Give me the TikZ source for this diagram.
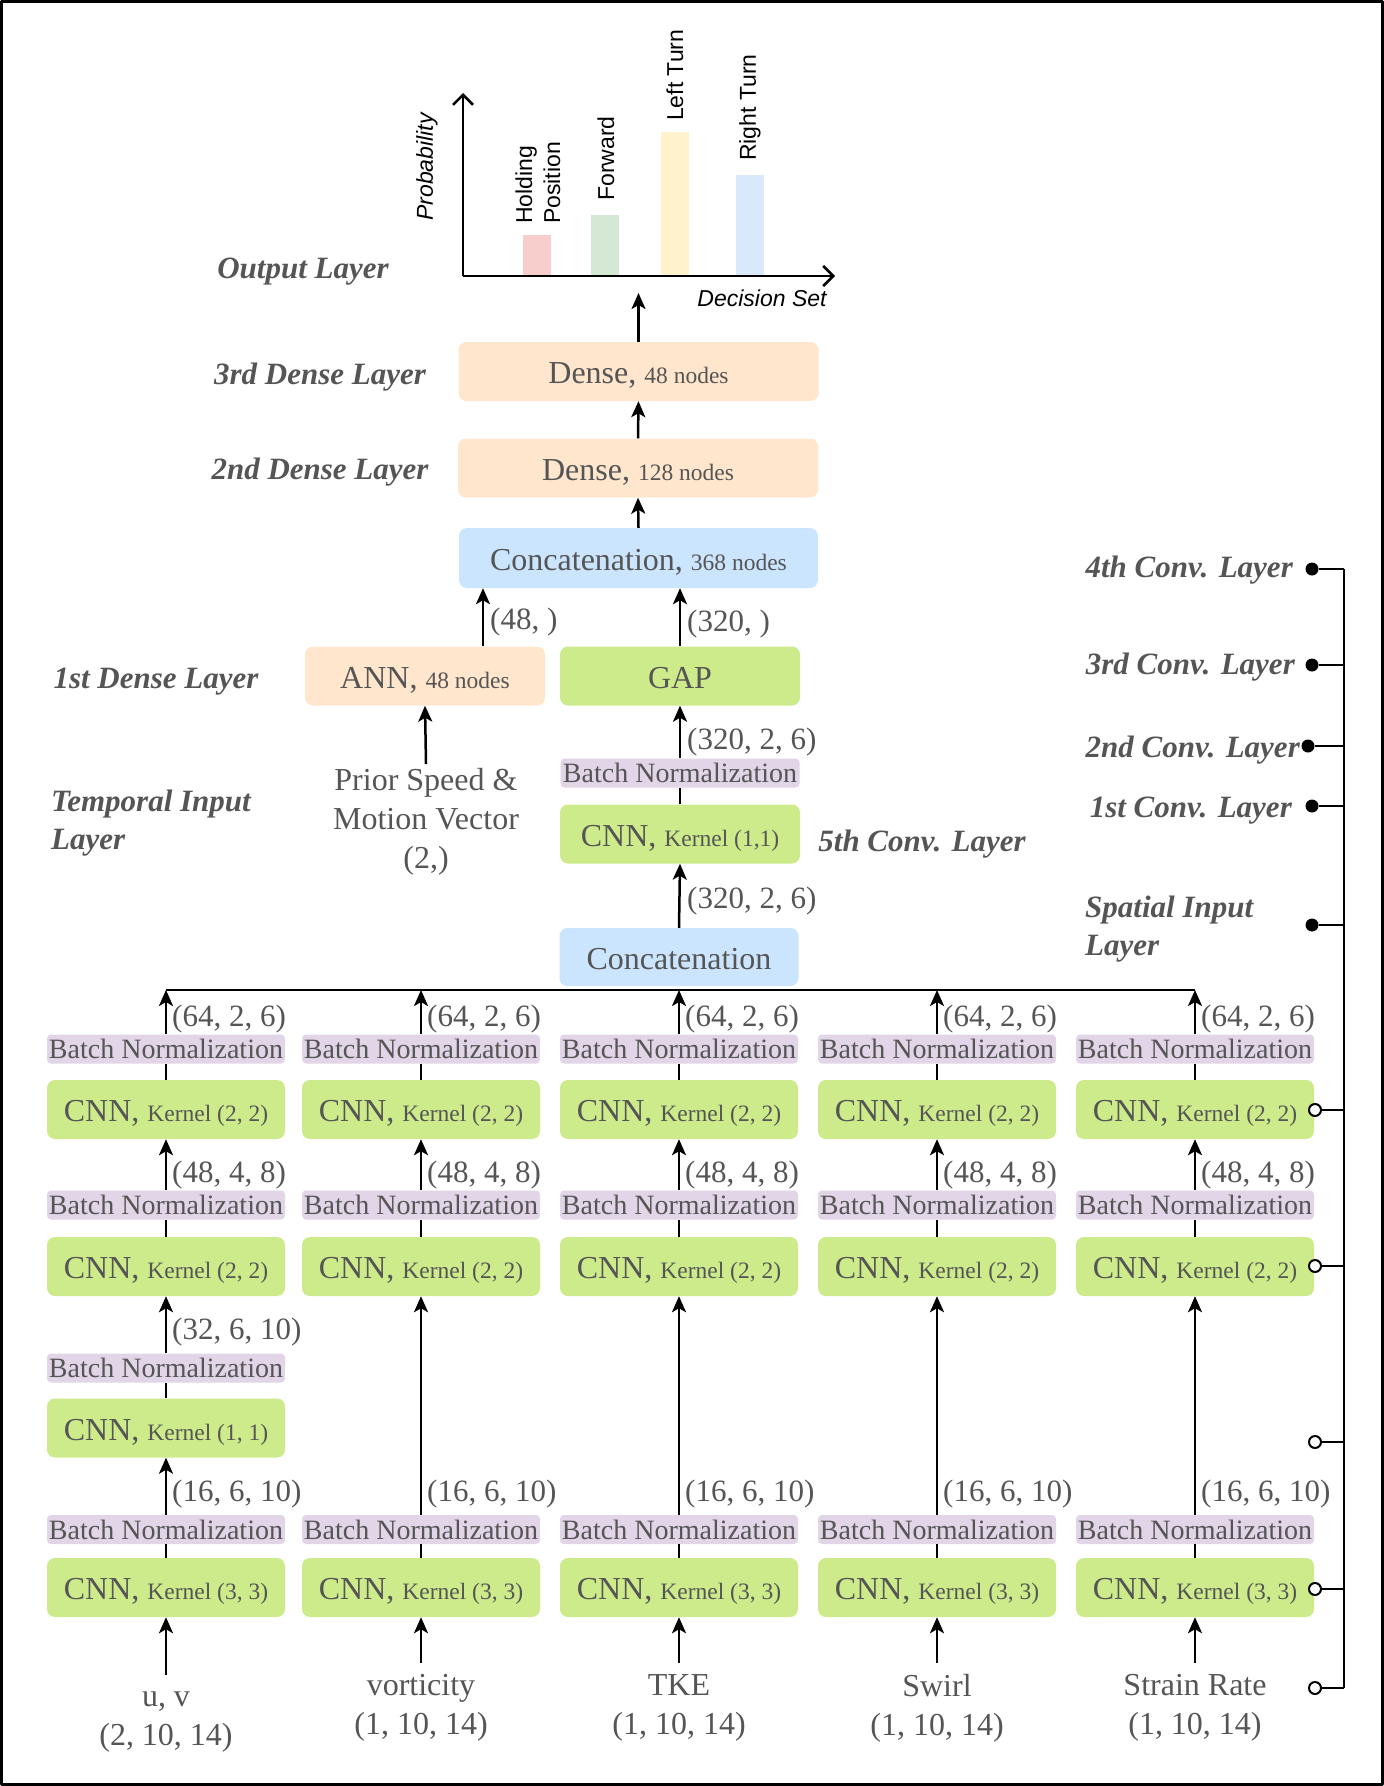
\documentclass[tikz,border=0pt]{standalone}
\usepackage{fontspec}
\setmainfont{Liberation Serif}
\setsansfont{Liberation Sans}
\usepackage{tikz}
\usetikzlibrary{arrows.meta,positioning,calc}

\definecolor{cnngreen}{RGB}{205,235,139}
\definecolor{densebg}{RGB}{255,230,204}
\definecolor{catbg}{RGB}{204,229,255}
\definecolor{bnbg}{RGB}{225,213,231}
\definecolor{txt}{RGB}{85,85,85}
\definecolor{barpink}{RGB}{248,206,204}
\definecolor{bargreen}{RGB}{213,232,212}
\definecolor{baryellow}{RGB}{255,242,204}
\definecolor{barblue}{RGB}{218,232,252}

\newcommand{\fbig}{\fontsize{32}{39}\selectfont}
\newcommand{\fdim}{\fontsize{31}{39}\selectfont}
\newcommand{\fsmall}{\fontsize{23.5}{28}\selectfont}
\newcommand{\fbn}{\fontsize{28}{32}\selectfont}
\newcommand{\flab}{\fontsize{31}{38}\selectfont\bfseries\itshape}
\newcommand{\fchart}{\fontsize{23}{28}\selectfont\sffamily}

\begin{document}
\begin{tikzpicture}[x=1pt, y=-1pt, line join=round,
  box/.style={rounded corners=8pt, inner sep=0pt, text=txt, font=\fbig, minimum height=59pt, text height=26pt, text depth=2pt},
  cnn/.style={box, fill=cnngreen, minimum width=238pt},
  bn/.style={rounded corners=4pt, fill=bnbg, inner sep=0pt, text=txt, font=\fbn, minimum width=238pt, minimum height=29pt},
  dense/.style={box, fill=densebg, minimum width=360pt},
  cat/.style={box, fill=catbg},
  dimlab/.style={anchor=west, inner sep=0pt, text=txt, font=\fdim},
  intext/.style={anchor=north, align=center, inner xsep=0pt, inner ysep=11pt, text=txt, font=\fbig},
  lay/.style={inner sep=0pt, text=txt, font=\flab},
  arr/.style={line width=2.5pt, -{Stealth[length=16pt,width=14pt,inset=4pt]}},
  ln/.style={line width=2.5pt},
  barlab/.style={rotate=90, anchor=west, inner sep=0pt, font=\fchart, align=left},
  fdot/.style={circle, fill=black, inner sep=0pt, minimum size=13pt},
  odot/.style={circle, draw=black, fill=white, line width=2pt, inner sep=0pt, minimum size=12pt}]
\useasboundingbox (0,0) rectangle (1384,1786);
\draw[line width=3pt] (1.5,1.5) rectangle (1382.5,1784.5);
% decision chart
\coordinate (org) at (463,276);
\coordinate (ytop) at (463,93);
\coordinate (xend) at (835,276);
\fill[barpink] (523,235) rectangle (551,276);
\fill[bargreen] (591,215) rectangle (619,276);
\fill[baryellow] (661,132) rectangle (689,276);
\fill[barblue] (736,175) rectangle (764,276);
\draw[ln, -{Straight Barb[length=10pt,width=20pt]}] (org) -- (ytop);
\draw[ln, -{Straight Barb[length=10pt,width=20pt]}] (org) -- (xend);
\node[barlab] (bhold) at (538,224) {Holding\\Position};
\node[barlab] (bfwd) at (606,201) {Forward};
\node[barlab] (bleft) at (675,121) {Left Turn};
\node[barlab] (bright) at (750,161) {Right Turn};
\node[rotate=90, font=\fchart\itshape] (prob) at (427,167) {Probability};
\node[font=\fchart\itshape] (dset) at (762,298) {Decision Set};
% dense stack
\node[dense] (d3) at (638.5,371.5) {Dense, {\fsmall 48 nodes}};
\node[dense] (d2) at (638,468) {Dense, {\fsmall 128 nodes}};
\node[cat, minimum width=359pt, minimum height=60pt] (cat2) at (638.5,558) {Concatenation, {\fsmall 368 nodes}};
\node[box, fill=densebg, minimum width=240pt] (ann) at (425,676) {ANN, {\fsmall 48 nodes}};
\node[cnn, minimum width=240pt] (gap) at (680,676) {GAP};
\node[bn, minimum width=239pt] (bn5) at (680,773) {Batch Normalization};
\node[cnn, minimum width=240pt] (cnn5) at (680,834) {CNN, {\fsmall Kernel (1,1)}};
\node[cat, minimum width=239pt, minimum height=58pt] (cat1) at (679,957) {Concatenation};
\node[intext, inner ysep=4pt] (prior) at (426,764) {Prior Speed \&\\Motion Vector\\(2,)};
\coordinate (chart) at (638.5,293);
\draw[arr] (cat2.north) -- (d2.south);
\draw[arr] (d2.north) -- (d3.south);
\draw[arr] (d3.north) -- (chart);
\draw[arr] ([xshift=58pt]ann.north) -- ([xshift=58pt]ann.north |- cat2.south);
\draw[arr] (gap.north) -- (gap.north |- cat2.south);
\draw[arr] (prior.north) -- (ann.south);
\draw[arr] (bn5.north) -- (gap.south);
\draw[ln] (cnn5.north) -- (bn5.south);
\draw[arr] (cat1.north) -- (cnn5.south);
\node[dimlab] (s48) at (490,622) {(48, )};
\node[dimlab] (s320) at (687,624) {(320, )};
\node[dimlab] (s326a) at (687,742) {(320, 2, 6)};
\node[dimlab] (s326b) at (687,901) {(320, 2, 6)};
% spatial columns
\foreach \i/\x in {1/166,2/421,3/679,4/937,5/1195}{
  \node[bn] (bna\i) at (\x,1049) {Batch Normalization};
  \node[cnn] (ca\i) at (\x,1109.5) {CNN, {\fsmall Kernel (2, 2)}};
  \node[bn] (bnb\i) at (\x,1205) {Batch Normalization};
  \node[cnn] (cb\i) at (\x,1266.5) {CNN, {\fsmall Kernel (2, 2)}};
  \node[bn] (bnd\i) at (\x,1529.5) {Batch Normalization};
  \node[cnn] (cd\i) at (\x,1587.5) {CNN, {\fsmall Kernel (3, 3)}};
  \coordinate (bus\i) at (\x,990);
  \draw[ln] (cd\i.north) -- (bnd\i.south);
  \draw[ln] (cb\i.north) -- (bnb\i.south);
  \draw[arr] (bnb\i.north) -- (ca\i.south);
  \draw[ln] (ca\i.north) -- (bna\i.south);
  \draw[arr] (bna\i.north) -- (bus\i);
  \node[dimlab] (da\i) at (\x+6,1019) {(64, 2, 6)};
  \node[dimlab] (db\i) at (\x+6,1175) {(48, 4, 8)};
  \node[dimlab] (dd\i) at (\x+6,1494) {(16, 6, 10)};
}
\draw[ln] (bus1) -- (bus5);
% extra 1x1 block in first column
\node[bn] (bnc1) at (166,1368) {Batch Normalization};
\node[cnn] (cc1) at (166,1428) {CNN, {\fsmall Kernel (1, 1)}};
\draw[arr] (bnd1.north) -- (cc1.south);
\draw[ln] (cc1.north) -- (bnc1.south);
\draw[arr] (bnc1.north) -- (cb1.south);
\node[dimlab] (dc1) at (172,1332) {(32, 6, 10)};
\foreach \i in {2,...,5}{
  \draw[arr] (bnd\i.north) -- (cb\i.south);
}
% inputs
\node[intext, inner ysep=17pt] (in1) at (166,1675) {u, v\\(2, 10, 14)};
\node[intext] (in2) at (421,1663) {vorticity\\(1, 10, 14)};
\node[intext] (in3) at (679,1663) {TKE\\(1, 10, 14)};
\node[intext] (in4) at (937,1663) {Swirl\\(1, 10, 14)};
\node[intext] (in5) at (1195,1663) {Strain Rate\\(1, 10, 14)};
\foreach \i in {1,...,5}{
  \draw[arr] (in\i.north) -- (cd\i.south);
}
% layer names
\node[lay] (lout) at (303,272) {Output Layer};
\node[lay] (ld3) at (320,377) {3rd Dense Layer};
\node[lay] (ld2) at (320,472) {2nd Dense Layer};
\node[lay] (ld1) at (156,682) {1st Dense Layer};
\node[lay, anchor=west, align=left] (ltemp) at (51,823) {Temporal Input\\Layer};
\node[lay] (l5) at (922,844) {5th Conv. Layer};
\node[lay, anchor=east] (l4) at (1293,570) {4th Conv. Layer};
\node[lay, anchor=east] (l3) at (1295,667) {3rd Conv. Layer};
\node[lay, anchor=east] (l2) at (1300,750) {2nd Conv. Layer};
\node[lay, anchor=east] (l1) at (1292,811) {1st Conv. Layer};
\node[lay, anchor=west, align=left] (l0) at (1085,929) {Spatial Input\\Layer};
% right bracket
\coordinate (sptop) at (1344,569);
\coordinate (spbot) at (1344,1688);
\draw[line width=2pt] (sptop) -- (spbot);
\node[fdot] (p4) at (1312,569) {};
\node[fdot] (p3) at (1312,665) {};
\node[fdot] (p2) at (1308,746) {};
\node[fdot] (p1) at (1312,806) {};
\node[fdot] (p0) at (1312,925) {};
\node[odot] (q4) at (1315,1110) {};
\node[odot] (q3) at (1315,1266) {};
\node[odot] (q2) at (1315,1442) {};
\node[odot] (q1) at (1315,1589) {};
\node[odot] (q0) at (1315,1688) {};
\foreach \p in {p4,p3,p2,p1,p0,q4,q3,q2,q1,q0}{
  \draw[line width=2pt] (\p) -- (\p -| sptop);
}
\end{tikzpicture}
\end{document}
